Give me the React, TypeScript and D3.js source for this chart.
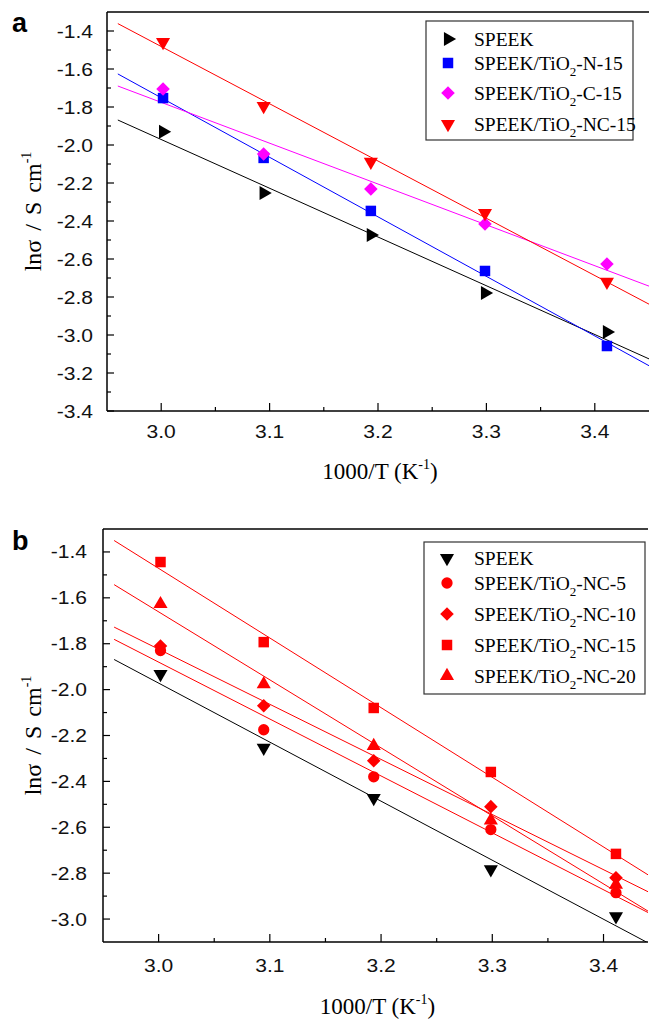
import * as d3 from "d3";
import React, { useEffect, useRef } from "react";

// 1000/T for 60, 50, 40, 30, 20 C
const invT = [3.0017, 3.0945, 3.1934, 3.2987, 3.4112];

// panel a
const speekA = [-1.93, -2.253, -2.474, -2.779, -2.984];
const n15A = [-1.753, -2.068, -2.347, -2.663, -3.058];
const c15A = [-1.705, -2.047, -2.232, -2.416, -2.626];
const nc15A = [-1.458, -1.795, -2.089, -2.358, -2.72];

// panel b
const speekB = [-1.932, -2.254, -2.473, -2.783, -2.988];
const nc5B = [-1.83, -2.175, -2.38, -2.61, -2.885];
const nc10B = [-1.81, -2.07, -2.31, -2.51, -2.82];
const nc15B = [-1.444, -1.793, -2.08, -2.359, -2.716];
const nc20B = [-1.627, -1.976, -2.245, -2.57, -2.85];

const xTicks = [3.0, 3.1, 3.2, 3.3, 3.4];
const xMinor = [3.05, 3.15, 3.25, 3.35];
const yTicksA = [-1.4, -1.6, -1.8, -2.0, -2.2, -2.4, -2.6, -2.8, -3.0, -3.2, -3.4];
const yMinorA = [-1.5, -1.7, -1.9, -2.1, -2.3, -2.5, -2.7, -2.9, -3.1, -3.3];
const yTicksB = [-1.4, -1.6, -1.8, -2.0, -2.2, -2.4, -2.6, -2.8, -3.0];
const yMinorB = [-1.5, -1.7, -1.9, -2.1, -2.3, -2.5, -2.7, -2.9];

const SERIF = "'Liberation Serif', 'Times New Roman', serif";
const SANS = "'Liberation Sans', Arial, sans-serif";

function fit(xs, ys) {
  const mx = d3.mean(xs);
  const my = d3.mean(ys);
  let sxy = 0;
  let sxx = 0;
  xs.forEach((x, i) => {
    sxy += (x - mx) * (ys[i] - my);
    sxx += (x - mx) * (x - mx);
  });
  const b = sxy / sxx;
  return (x) => my + b * (x - mx);
}

function markerPath(kind) {
  if (kind === "square") return d3.symbol().type(d3.symbolSquare).size(110)();
  if (kind === "circle") return d3.symbol().type(d3.symbolCircle).size(100)();
  if (kind === "diamond") return d3.symbol().type(d3.symbolSquare).size(92)();
  return d3.symbol().type(d3.symbolTriangle).size(86)();
}

function markerRot(kind) {
  if (kind === "diamond") return 45;
  if (kind === "triRight") return 90;
  if (kind === "triDown") return 180;
  return 0;
}

function drawPanel(svg, p) {
  const g = svg.append("g");
  const x = d3.scaleLinear().domain(p.xDomain).range([p.left, p.right]);
  const y = d3.scaleLinear().domain(p.yDomain).range([p.bottom, p.top]);

  const clipId = "clip-" + p.id;
  svg
    .append("clipPath")
    .attr("id", clipId)
    .append("rect")
    .attr("x", p.left)
    .attr("y", p.top)
    .attr("width", p.right - p.left)
    .attr("height", p.bottom - p.top);

  // fit lines
  const lines = g.append("g").attr("clip-path", `url(#${clipId})`);
  p.series.forEach((s) => {
    const f = fit(invT, s.values);
    const x0 = 2.96;
    const x1 = p.xDomain[1];
    lines
      .append("line")
      .attr("x1", x(x0))
      .attr("y1", y(f(x0)))
      .attr("x2", x(x1))
      .attr("y2", y(f(x1)))
      .attr("stroke", s.color)
      .attr("stroke-width", 1);
  });

  // markers
  p.series.forEach((s) => {
    g.append("g")
      .selectAll("path")
      .data(s.values)
      .enter()
      .append("path")
      .attr("d", markerPath(s.marker))
      .attr(
        "transform",
        (d, i) => `translate(${x(invT[i])},${y(d)}) rotate(${markerRot(s.marker)})`
      )
      .attr("fill", s.color);
  });

  // frame
  g.append("line")
    .attr("x1", p.left).attr("x2", p.right)
    .attr("y1", p.top).attr("y2", p.top)
    .attr("stroke", "#000").attr("stroke-width", 1.5);
  g.append("line")
    .attr("x1", p.left).attr("x2", p.left)
    .attr("y1", p.top).attr("y2", p.bottom)
    .attr("stroke", "#000").attr("stroke-width", 1.5);
  g.append("line")
    .attr("x1", p.left).attr("x2", p.right)
    .attr("y1", p.bottom).attr("y2", p.bottom)
    .attr("stroke", "#000").attr("stroke-width", 1.5);

  // x ticks (inward)
  xTicks.forEach((t) => {
    g.append("line")
      .attr("x1", x(t)).attr("x2", x(t))
      .attr("y1", p.bottom).attr("y2", p.bottom - 8)
      .attr("stroke", "#000").attr("stroke-width", 1.2);
    g.append("text")
      .attr("transform", `translate(${x(t)},${p.bottom + p.xLabelOff}) scale(1.17,1)`)
      .attr("text-anchor", "middle")
      .attr("font-family", SANS)
      .attr("font-size", 18)
      .attr("fill", "#111")
      .text(t.toFixed(1));
  });
  xMinor.forEach((t) => {
    g.append("line")
      .attr("x1", x(t)).attr("x2", x(t))
      .attr("y1", p.bottom).attr("y2", p.bottom - 4)
      .attr("stroke", "#000").attr("stroke-width", 1.2);
  });

  // y ticks (inward)
  p.yTicks.forEach((t) => {
    g.append("line")
      .attr("x1", p.left).attr("x2", p.left + 7)
      .attr("y1", y(t)).attr("y2", y(t))
      .attr("stroke", "#000").attr("stroke-width", 1.2);
    g.append("text")
      .attr("transform", `translate(${p.left - p.yLabelGap},${y(t) + 6.5}) scale(1.17,1)`)
      .attr("text-anchor", "end")
      .attr("font-family", SANS)
      .attr("font-size", 18)
      .attr("fill", "#111")
      .text(t.toFixed(1));
  });
  p.yMinor.forEach((t) => {
    g.append("line")
      .attr("x1", p.left).attr("x2", p.left + 4)
      .attr("y1", y(t)).attr("y2", y(t))
      .attr("stroke", "#000").attr("stroke-width", 1.2);
  });

  // axis titles
  const yt = g
    .append("text")
    .attr("transform", `translate(41,${(p.top + p.bottom) / 2}) rotate(-90)`)
    .attr("text-anchor", "middle")
    .attr("font-family", SERIF)
    .attr("font-size", 24)
    .attr("word-spacing", 3);
  yt.append("tspan").text("lnσ / S cm");
  yt.append("tspan").attr("font-size", 14).attr("dy", -10).text("-1");

  const xt = g
    .append("text")
    .attr("x", (p.left + p.right) / 2 + 2)
    .attr("y", p.xTitleY)
    .attr("text-anchor", "middle")
    .attr("font-family", SERIF)
    .attr("font-size", 23);
  xt.append("tspan").text("1000/T (K");
  xt.append("tspan").attr("font-size", 14).attr("dy", -10).text("-1");
  xt.append("tspan").attr("dy", 10).text(")");

  // panel letter
  g.append("text")
    .attr("x", 12)
    .attr("y", p.letterY)
    .attr("font-family", SANS)
    .attr("font-weight", "bold")
    .attr("font-size", 27)
    .text(p.letter);

  // legend
  const L = p.legend;
  g.append("rect")
    .attr("x", L.x0).attr("y", L.y0)
    .attr("width", L.x1 - L.x0).attr("height", L.y1 - L.y0)
    .attr("fill", "#fff").attr("stroke", "#333").attr("stroke-width", 1.2);
  p.series.forEach((s, i) => {
    const ry = L.rows[i];
    g.append("path")
      .attr("d", markerPath(s.marker))
      .attr("transform", `translate(${L.mx},${ry}) rotate(${markerRot(s.marker)})`)
      .attr("fill", s.color);
    const t = g
      .append("text")
      .attr("x", L.tx)
      .attr("y", ry + 7)
      .attr("font-family", SERIF)
      .attr("font-size", 19.5);
    if (s.sub) {
      t.append("tspan").text(s.name);
      t.append("tspan").attr("font-size", 13).attr("dy", 6).text("2");
      t.append("tspan").attr("dy", -6).text(s.rest);
    } else {
      t.text(s.name);
    }
  });
}

export default function App() {
  const svgRef = useRef(null);

  useEffect(() => {
    const svgEl = d3.select(svgRef.current);
    svgEl.selectAll("*").remove();

    drawPanel(svgEl, {
      id: "a",
      letter: "a",
      letterY: 32,
      left: 107,
      right: 649,
      top: 12,
      bottom: 411,
      xDomain: [2.95, 3.45],
      yDomain: [-3.4, -1.3],
      yTicks: yTicksA,
      yMinor: yMinorA,
      xLabelOff: 27,
      yLabelGap: 14,
      xTitleY: 479,
      legend: { x0: 426, x1: 633, y0: 21, y1: 140, mx: 448, tx: 474, rows: [39, 63, 93, 124] },
      series: [
        { name: "SPEEK", values: speekA, color: "#000000", marker: "triRight" },
        { name: "SPEEK/TiO", rest: "-N-15", sub: true, values: n15A, color: "#0000ff", marker: "square" },
        { name: "SPEEK/TiO", rest: "-C-15", sub: true, values: c15A, color: "#ff00ff", marker: "diamond" },
        { name: "SPEEK/TiO", rest: "-NC-15", sub: true, values: nc15A, color: "#ff0000", marker: "triDown" },
      ],
    });

    drawPanel(svgEl, {
      id: "b",
      letter: "b",
      letterY: 550,
      left: 103,
      right: 648,
      top: 529,
      bottom: 942,
      xDomain: [2.95, 3.44],
      yDomain: [-3.1, -1.3],
      yTicks: yTicksB,
      yMinor: yMinorB,
      xLabelOff: 30,
      yLabelGap: 16,
      xTitleY: 1014,
      legend: { x0: 424, x1: 645, y0: 542, y1: 694, mx: 447, tx: 474, rows: [558, 583, 614, 645, 676] },
      series: [
        { name: "SPEEK", values: speekB, color: "#000000", marker: "triDown" },
        { name: "SPEEK/TiO", rest: "-NC-5", sub: true, values: nc5B, color: "#ff0000", marker: "circle" },
        { name: "SPEEK/TiO", rest: "-NC-10", sub: true, values: nc10B, color: "#ff0000", marker: "diamond" },
        { name: "SPEEK/TiO", rest: "-NC-15", sub: true, values: nc15B, color: "#ff0000", marker: "square" },
        { name: "SPEEK/TiO", rest: "-NC-20", sub: true, values: nc20B, color: "#ff0000", marker: "triUp" },
      ],
    });
  });

  return (
    <svg
      ref={svgRef}
      width={649}
      height={1019}
      style={{ position: "absolute", left: 0, top: 0, background: "#fff" }}
    ></svg>
  );
}
